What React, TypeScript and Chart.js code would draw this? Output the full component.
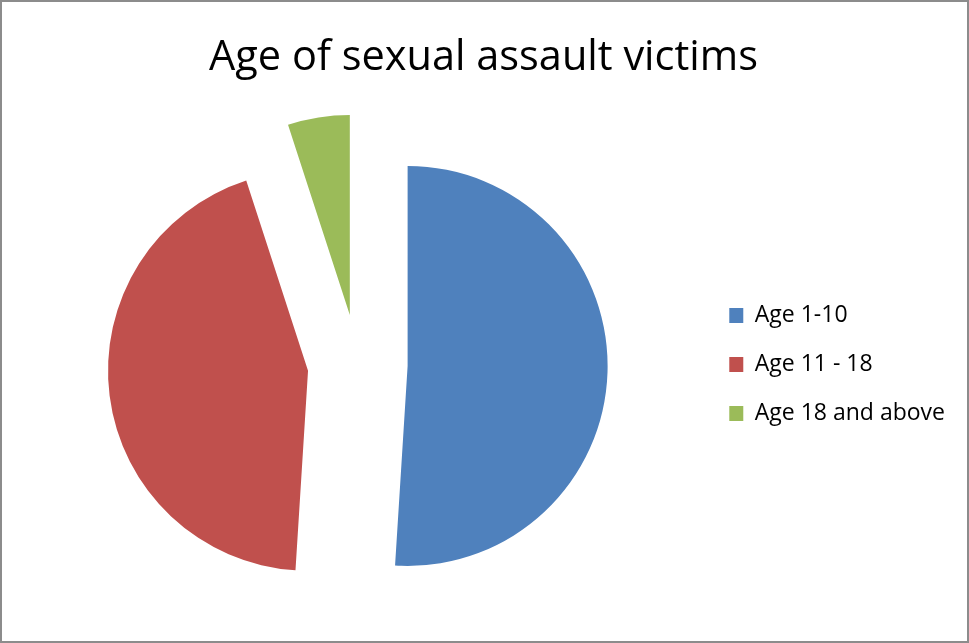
import React, { useEffect, useRef } from "react";
import { Chart, registerables } from "chart.js";

Chart.register(...registerables);

const TITLE = "Age of sexual assault victims";
const CATEGORIES = ["Age 1-10", "Age 11 - 18", "Age 18 and above"];
const VALUES = [51, 44, 5];
const COLORS = ["#4F81BD", "#C0504D", "#9BBB59"];

const explodePlugin = {
  id: "explodeSlices",
  afterDatasetsUpdate(chart: any, _args: any, opts: any) {
    const dist = (opts && opts.distance) || 0;
    chart.data.datasets.forEach((_d: any, i: number) => {
      const meta = chart.getDatasetMeta(i);
      meta.data.forEach((arc: any) => {
        const mid = (arc.startAngle + arc.endAngle) / 2;
        arc.x = arc.x + Math.cos(mid) * dist;
        arc.y = arc.y + Math.sin(mid) * dist;
      });
    });
  },
};

const framePlugin = {
  id: "frame",
  afterDraw(chart: any) {
    const ctx = chart.ctx;
    ctx.save();
    ctx.strokeStyle = "#8c8c8c";
    ctx.lineWidth = 2;
    ctx.strokeRect(1, 1, chart.width - 2, chart.height - 2);
    ctx.restore();
  },
};

export default function App() {
  const ref = useRef<HTMLCanvasElement | null>(null);
  useEffect(() => {
    if (!ref.current) return;
    const chart = new Chart(ref.current, {
      type: "pie",
      data: {
        labels: CATEGORIES,
        datasets: [
          {
            data: VALUES,
            backgroundColor: COLORS,
            borderWidth: 0,
            clip: false,
          } as any,
        ],
      },
      options: {
        animation: false,
        responsive: false,
        devicePixelRatio: 1,
        radius: 200,
        layout: { padding: { left: 12, right: 14, top: 0, bottom: 15 } },
        plugins: {
          explodeSlices: { distance: 50 },
          title: {
            display: true,
            text: TITLE,
            color: "#000",
            font: { family: "'Open Sans'", size: 41.5, weight: "normal", lineHeight: 1.2 },
            padding: { top: 33, bottom: 18 },
          },
          legend: {
            display: true,
            position: "right",
            fullSize: false,
            labels: {
              color: "#000",
              boxWidth: 14,
              boxHeight: 15,
              padding: 26,
              font: { family: "'Open Sans'", size: 23 },
            },
          },
          tooltip: { enabled: false },
        } as any,
      },
      plugins: [explodePlugin, framePlugin],
    } as any);
    return () => chart.destroy();
  }, []);
  return (
    <div style={{ position: "absolute", left: 0, top: 0, width: 969, height: 643, background: "#fff" }}>
      <canvas ref={ref} width={969} height={643} />
    </div>
  );
}
